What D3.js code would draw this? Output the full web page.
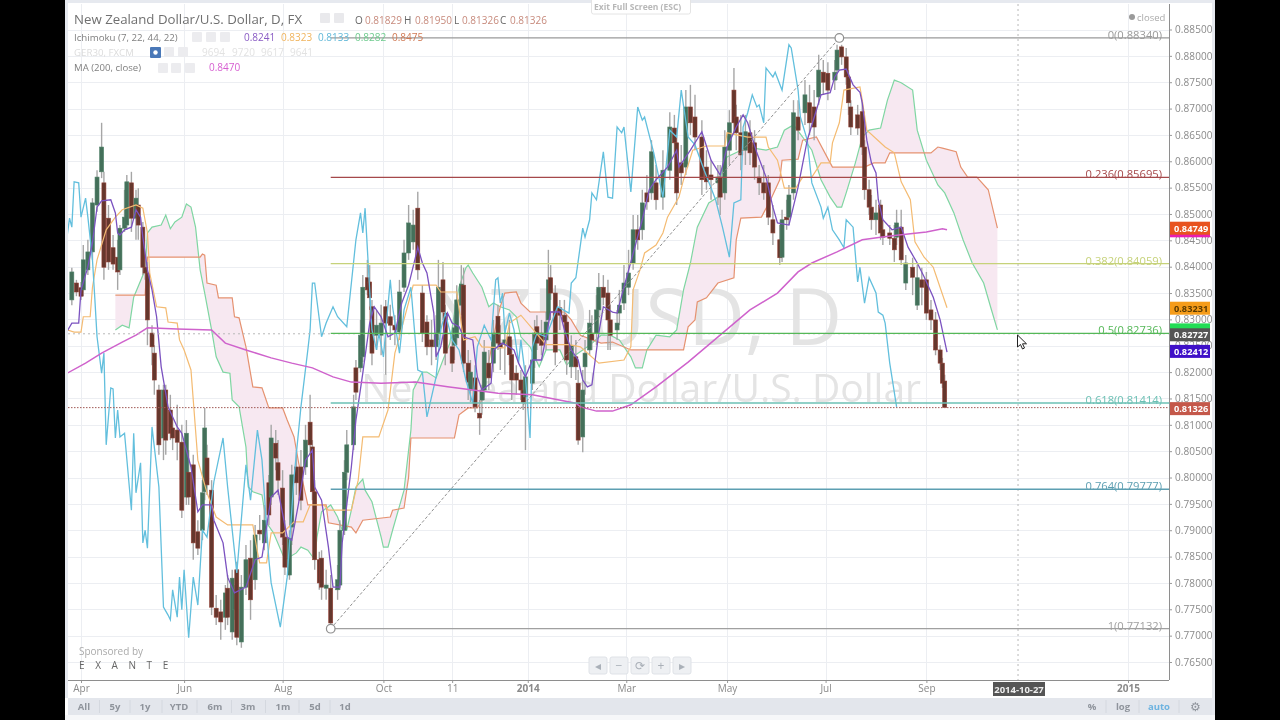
<!DOCTYPE html>
<html>
<head>
<meta charset="utf-8">
<script src="https://cdnjs.cloudflare.com/ajax/libs/d3/7.8.5/d3.min.js"></script>
<style>
html,body{margin:0;padding:0;background:#000;overflow:hidden}
text{font-family:"Open Sans",sans-serif}
</style>
</head>
<body>
<script>
// all x values are trading day counts from 1 Apr 2013
const dayTicks = [0,45,88,132,162,195,238,282,325,369,457];
const dayLabels = ["Apr","Jun","Aug","Oct","11","2014","Mar","May","Jul","Sep","2015"];
const priceTicks = [0.885,0.88,0.875,0.87,0.865,0.86,0.855,0.85,0.845,0.84,0.835,0.83,0.825,0.82,0.815,0.81,0.805,0.8,0.795,0.79,0.785,0.78,0.775,0.77,0.765];

const candleDays = [
-4,-2,0,1,3,5,7,9,10,12,
14,16,17,19,20,22,24,25,27,28,
29,31,32,34,36,37,39,40,42,44,
46,47,49,51,53,54,55,57,59,61,
63,64,66,67,68,70,72,74,76,78,
80,82,83,85,86,88,89,91,92,94,
96,98,100,101,102,104,105,107,109,112,
113,115,116,119,120,122,123,125,126,127,
129,131,133,135,137,139,141,143,145,147,
149,151,153,155,156,158,159,162,163,164,
166,167,169,170,172,174,175,176,178,180,
182,183,185,187,188,190,192,193,194,197,
198,199,201,203,204,205,207,209,211,212,
214,216,217,219,220,222,223,225,226,228,
230,231,234,235,237,239,241,243,245,247,
249,251,254,257,259,260,262,264,266,268,
271,273,275,278,279,281,283,285,286,288,
290,292,294,296,298,300,302,305,306,308,
309,311,313,316,318,320,322,324,326,329,
330,332,334,335,336,339,341,342,344,345,
347,349,350,353,355,356,358,360,363,365,
367,369,371,373,375,376,377];
const opens = [
.8337,.8369,.8360,.8356,.8394,.8428,.8517,.8580,.8559,.8492,
.8436,.8418,.8394,.8473,.8479,.8559,.8492,.8517,.8475,.8399,
.8388,.8274,.8236,.8166,.8075,.8166,.8128,.8094,.8090,.8067,
.7963,.8010,.8024,.7897,.7900,.7973,.8037,.7976,.7752,.7745,
.7735,.7790,.7707,.7749,.7825,.7688,.7792,.7847,.7806,.7900,
.7876,.7990,.7963,.8065,.8028,.7980,.7887,.7815,.7906,.8020,
.8020,.8020,.8105,.8058,.7973,.7844,.7847,.7790,.7790,.7787,
.7796,.7900,.8010,.8062,.8208,.8208,.8229,.8379,.8371,.8324,
.8270,.8270,.8324,.8305,.8289,.8276,.8361,.8426,.8447,.8511,
.8350,.8295,.8261,.8248,.8274,.8375,.8312,.8248,.8251,.8265,
.8327,.8365,.8217,.8166,.8189,.8122,.8147,.8166,.8217,.8217,
.8306,.8255,.8253,.8267,.8233,.8198,.8185,.8166,.8153,.8179,
.8223,.8286,.8274,.8261,.8299,.8379,.8350,.8322,.8308,.8295,
.8210,.8229,.8179,.8077,.8210,.8242,.8274,.8274,.8318,.8361,
.8350,.8299,.8280,.8312,.8331,.8361,.8407,.8470,.8470,.8540,
.8540,.8559,.8532,.8583,.8663,.8635,.8597,.8589,.8703,.8684,
.8646,.8589,.8574,.8559,.8570,.8540,.8621,.8735,.8684,.8654,
.8621,.8654,.8635,.8570,.8559,.8559,.8489,.8451,.8418,.8494,
.8494,.8540,.8684,.8692,.8711,.8703,.8722,.8769,.8767,.8754,
.8773,.8817,.8798,.8760,.8703,.8688,.8694,.8627,.8546,.8513,
.8489,.8517,.8470,.8464,.8454,.8456,.8475,.8369,.8399,.8327,
.8375,.8375,.8318,.8299,.8242,.8217,.8183];
const closes = [
.8390,.8352,.8344,.8413,.8428,.8521,.8570,.8627,.8399,.8409,
.8405,.8390,.8473,.8494,.8561,.8492,.8530,.8479,.8399,.8388,
.8299,.8248,.8185,.8062,.8166,.8071,.8084,.8075,.8067,.7938,
.8084,.7963,.7876,.7866,.7971,.8094,.7986,.7754,.7735,.7726,
.7781,.7735,.7809,.7787,.7697,.7792,.7844,.7768,.7891,.7893,
.7919,.7929,.8075,.8037,.7995,.7887,.7830,.7885,.8005,.7990,
.7957,.8071,.8062,.7973,.7844,.7800,.7792,.7796,.7724,.7806,
.7900,.8010,.8062,.8134,.8162,.8270,.8361,.8356,.8341,.8236,
.8289,.8293,.8293,.8289,.8280,.8352,.8426,.8483,.8479,.8394,
.8274,.8248,.8248,.8274,.8361,.8314,.8236,.8217,.8284,.8337,
.8367,.8217,.8181,.8200,.8134,.8113,.8166,.8238,.8189,.8274,
.8255,.8246,.8261,.8233,.8185,.8185,.8166,.8143,.8191,.8223,
.8274,.8255,.8251,.8295,.8375,.8350,.8238,.8308,.8295,.8223,
.8251,.8210,.8071,.8166,.8236,.8293,.8261,.8318,.8361,.8342,
.8299,.8270,.8293,.8327,.8369,.8388,.8470,.8451,.8521,.8523,
.8618,.8527,.8583,.8665,.8635,.8540,.8578,.8703,.8673,.8646,
.8565,.8561,.8565,.8570,.8532,.8627,.8673,.8673,.8654,.8612,
.8656,.8616,.8589,.8559,.8540,.8494,.8464,.8417,.8489,.8489,
.8536,.8692,.8659,.8726,.8673,.8665,.8773,.8750,.8735,.8769,
.8811,.8798,.8760,.8711,.8665,.8663,.8627,.8546,.8513,.8489,
.8502,.8464,.8456,.8454,.8432,.8483,.8413,.8407,.8380,.8379,
.8361,.8312,.8299,.8242,.8217,.8179,.8133];
const highs = [
.8398,.8375,.8371,.8441,.8451,.8530,.8583,.8673,.8580,.8517,
.8460,.8451,.8479,.8546,.8574,.8580,.8546,.8549,.8485,.8422,
.8409,.8289,.8251,.8176,.8176,.8176,.8157,.8113,.8138,.8100,
.8109,.8052,.8043,.7919,.7995,.8132,.8062,.7995,.7777,.7768,
.7796,.7815,.7825,.7796,.7840,.7815,.7872,.7881,.7910,.7929,
.7948,.8005,.8100,.8090,.8071,.8014,.7919,.7900,.8024,.8052,
.8052,.8100,.8157,.8071,.7995,.7859,.7862,.7825,.7815,.7834,
.7919,.8033,.8090,.8157,.8223,.8299,.8384,.8413,.8403,.8337,
.8318,.8328,.8337,.8328,.8308,.8375,.8451,.8517,.8508,.8542,
.8365,.8308,.8299,.8308,.8413,.8409,.8328,.8261,.8308,.8365,
.8403,.8398,.8242,.8223,.8213,.8147,.8176,.8261,.8242,.8299,
.8328,.8289,.8289,.8299,.8261,.8213,.8204,.8185,.8213,.8242,
.8299,.8308,.8299,.8314,.8432,.8403,.8365,.8337,.8337,.8308,
.8270,.8261,.8204,.8204,.8261,.8318,.8308,.8346,.8388,.8384,
.8375,.8328,.8318,.8356,.8403,.8432,.8498,.8498,.8546,.8574,
.8640,.8593,.8621,.8693,.8688,.8659,.8631,.8735,.8745,.8726,
.8678,.8621,.8602,.8593,.8593,.8659,.8697,.8777,.8707,.8688,
.8688,.8678,.8659,.8593,.8593,.8574,.8517,.8479,.8508,.8527,
.8555,.8716,.8716,.8754,.8745,.8735,.8802,.8792,.8788,.8792,
.8821,.8821,.8815,.8773,.8716,.8707,.8716,.8640,.8565,.8536,
.8527,.8527,.8489,.8479,.8479,.8508,.8508,.8422,.8417,.8403,
.8398,.8390,.8337,.8314,.8251,.8227,.8195];
const lows = [
.8327,.8344,.8337,.8344,.8384,.8413,.8504,.8568,.8375,.8394,
.8394,.8356,.8384,.8466,.8470,.8466,.8451,.8451,.8384,.8375,
.8251,.8213,.8157,.8043,.8033,.8043,.8071,.8052,.8033,.7923,
.7948,.7948,.7844,.7853,.7881,.7957,.7967,.7739,.7720,.7692,
.7711,.7720,.7692,.7730,.7682,.7677,.7777,.7730,.7787,.7881,
.7862,.7910,.7948,.8014,.7967,.7872,.7815,.7806,.7872,.7967,
.7938,.8005,.8043,.7957,.7825,.7787,.7768,.7768,.7714,.7768,
.7787,.7891,.7995,.8052,.8147,.8200,.8219,.8346,.8318,.8213,
.8242,.8232,.8195,.8261,.8251,.8261,.8352,.8413,.8432,.8375,
.8257,.8232,.8213,.8223,.8261,.8299,.8213,.8200,.8223,.8251,
.8308,.8200,.8147,.8143,.8124,.8081,.8119,.8147,.8166,.8200,
.8242,.8204,.8195,.8213,.8147,.8157,.8147,.8128,.8052,.8166,
.8208,.8242,.8232,.8242,.8289,.8337,.8213,.8280,.8270,.8195,
.8189,.8185,.8062,.8048,.8157,.8232,.8242,.8251,.8303,.8327,
.8242,.8242,.8261,.8289,.8318,.8346,.8394,.8432,.8451,.8508,
.8527,.8508,.8508,.8565,.8612,.8517,.8555,.8574,.8650,.8621,
.8536,.8546,.8527,.8517,.8498,.8527,.8593,.8650,.8621,.8583,
.8593,.8593,.8565,.8536,.8527,.8479,.8441,.8403,.8409,.8470,
.8479,.8527,.8640,.8669,.8650,.8640,.8707,.8726,.8716,.8735,
.8754,.8783,.8745,.8688,.8650,.8650,.8612,.8527,.8498,.8470,
.8460,.8451,.8441,.8441,.8409,.8441,.8403,.8356,.8346,.8318,
.8327,.8299,.8280,.8232,.8204,.8170,.8133];

const lagDays = [-6,-5,-4,-3,-1,0,2,3,5,6,7,9,10,11,13,14,15,16,17,19,22,23,24,26,27,28,29,31,34,36,38,39,40,42,43,44,45,47,49,51,53,55,58,62,64,68,72,74,77,79,82,83,87,90,93,96,99,100,101,102,105,107,110,112,116,120,122,123,124,126,127,129,130,132,135,136,139,141,144,147,149,151,155,157,159,162,165,168,171,173,176,179,181,182,183,184,185,187,189,191,192,194,196,197,199,203,208,213,214,216,219,220,222,223,225,228,230,232,234,236,237,240,243,245,246,250,254,257,260,262,265,268,272,277,280,283,285,288,289,291,293,295,296,298,299,302,303,306,309,310,313,314,317,319,323,324,326,328,331,333,334,337,339,340,342,344,347,348,350,351,353,356];
const lagVals = [.8460,.8492,.8475,.8561,.8559,.8494,.8530,.8494,.8413,.8342,.8267,.8198,.8236,.8062,.8170,.8168,.8075,.8128,.8077,.8084,.7938,.8084,.7971,.8028,.7876,.7900,.7866,.8096,.7982,.7754,.7739,.7730,.7787,.7735,.7811,.7749,.7825,.7696,.7811,.7758,.7900,.7887,.7992,.8075,.7982,.7819,.8024,.7957,.8090,.8033,.7844,.7800,.7716,.7811,.8001,.8134,.8242,.8280,.8369,.8369,.8267,.8293,.8324,.8305,.8286,.8451,.8502,.8464,.8511,.8356,.8280,.8242,.8274,.8229,.8375,.8324,.8236,.8318,.8361,.8204,.8200,.8115,.8191,.8280,.8312,.8261,.8242,.8185,.8141,.8248,.8289,.8261,.8375,.8379,.8331,.8350,.8274,.8312,.8280,.8217,.8261,.8191,.8075,.8248,.8274,.8267,.8324,.8312,.8369,.8379,.8473,.8456,.8489,.8540,.8527,.8618,.8532,.8530,.8665,.8654,.8665,.8542,.8703,.8678,.8684,.8616,.8532,.8659,.8646,.8735,.8646,.8631,.8583,.8527,.8475,.8418,.8521,.8527,.8665,.8692,.8726,.8703,.8707,.8673,.8777,.8760,.8769,.8735,.8821,.8815,.8735,.8684,.8640,.8559,.8513,.8492,.8513,.8470,.8451,.8436,.8489,.8475,.8371,.8399,.8331,.8379,.8350,.8314,.8308,.8293,.8217,.8134];

const convDays = [-6,-4,-1,0,3,5,7,9,13,15,16,17,19,22,24,26,27,29,31,33,35,38,42,44,48,51,53,57,58,62,64,67,72,76,79,81,83,86,90,92,95,98,101,102,105,108,110,113,114,118,120,123,125,126,128,131,134,137,140,143,146,147,149,151,154,155,157,160,162,165,167,171,173,175,179,180,184,189,191,194,197,201,203,205,209,211,214,217,219,221,223,226,228,232,234,237,245,248,251,256,260,261,266,271,275,279,282,286,289,291,295,299,302,304,309,313,317,323,327,329,331,334,337,340,341,343,345,347,348,350,354,358,361,365,368,372,375,378];
const convVals = [.8278,.8293,.8293,.8356,.8399,.8445,.8513,.8525,.8527,.8502,.8464,.8460,.8470,.8475,.8508,.8494,.8456,.8394,.8356,.8305,.8210,.8134,.8096,.8084,.8020,.7935,.7948,.7948,.7919,.7876,.7811,.7781,.7792,.7844,.7849,.7906,.7963,.7976,.7887,.7881,.7952,.8033,.8052,.7982,.7957,.7868,.7792,.7792,.7876,.8020,.8109,.8198,.8261,.8293,.8324,.8305,.8267,.8274,.8331,.8365,.8418,.8437,.8407,.8388,.8312,.8229,.8248,.8312,.8293,.8286,.8267,.8261,.8191,.8166,.8179,.8242,.8255,.8242,.8217,.8191,.8223,.8223,.8267,.8314,.8314,.8280,.8242,.8223,.8185,.8172,.8176,.8274,.8324,.8314,.8312,.8361,.8489,.8546,.8565,.8589,.8621,.8589,.8621,.8656,.8602,.8574,.8627,.8665,.8688,.8673,.8616,.8570,.8513,.8483,.8479,.8551,.8640,.8726,.8730,.8760,.8773,.8775,.8745,.8731,.8711,.8640,.8597,.8578,.8527,.8489,.8470,.8475,.8437,.8407,.8381,.8342,.8299,.8238];

const baseDays = [-6,-3,0,1,4,5,7,11,15,18,24,27,29,30,33,37,38,42,43,45,48,51,55,59,64,75,77,78,81,83,88,93,97,100,106,108,118,121,123,130,134,137,139,145,155,157,164,167,172,175,185,187,192,203,213,218,226,237,240,241,244,246,251,254,256,261,263,267,273,281,282,291,299,300,304,307,312,315,319,323,327,328,331,333,340,341,343,351,355,358,362,364,368,372,378];
const baseVals = [.8280,.8276,.8276,.8305,.8305,.8361,.8413,.8470,.8494,.8508,.8517,.8511,.8464,.8388,.8324,.8322,.8295,.8293,.8261,.8242,.8204,.8033,.7971,.7925,.7910,.7910,.7859,.7838,.7838,.7895,.7895,.7916,.7916,.7948,.7948,.7938,.7938,.7995,.8077,.8077,.8128,.8236,.8267,.8365,.8365,.8352,.8352,.8261,.8267,.8248,.8246,.8293,.8308,.8252,.8252,.8248,.8217,.8223,.8248,.8356,.8394,.8426,.8441,.8464,.8494,.8532,.8565,.8621,.8629,.8629,.8654,.8646,.8646,.8627,.8602,.8549,.8549,.8570,.8570,.8597,.8597,.8635,.8673,.8735,.8741,.8716,.8659,.8627,.8616,.8561,.8527,.8447,.8418,.8399,.8322];

const spanADays = [15,18,21,23,28,29,31,35,37,39,41,44,46,48,50,52,54,57,59,62,65,66,69,72,73,75,79,81,84,89,94,96,99,102,103,105,109,112,114,116,118,120,123,124,127,131,132,134,136,141,144,145,149,151,155,158,161,163,165,168,169,171,175,178,180,183,187,190,192,196,200,203,209,212,216,222,227,231,235,240,242,245,247,251,257,260,263,266,269,274,278,280,282,291,299,304,307,311,315,319,323,327,330,332,334,338,341,344,349,352,355,358,363,365,369,374,377,381,385,389,394,397,400];
const spanAVals = [.8280,.8289,.8284,.8342,.8394,.8464,.8475,.8479,.8498,.8472,.8485,.8494,.8519,.8513,.8475,.8394,.8350,.8280,.8229,.8200,.8198,.8147,.8134,.8058,.7982,.7973,.7967,.7914,.7895,.7844,.7857,.7868,.7862,.7844,.7887,.7935,.7948,.7925,.7900,.7900,.7938,.7982,.7997,.7976,.7954,.7887,.7868,.7868,.7900,.7976,.8090,.8166,.8200,.8200,.8189,.8223,.8255,.8312,.8361,.8398,.8403,.8388,.8361,.8324,.8331,.8324,.8318,.8305,.8267,.8248,.8210,.8242,.8242,.8213,.8233,.8251,.8270,.8270,.8261,.8229,.8208,.8208,.8242,.8270,.8267,.8280,.8356,.8407,.8475,.8521,.8532,.8589,.8608,.8627,.8621,.8627,.8659,.8669,.8646,.8621,.8565,.8532,.8513,.8513,.8540,.8597,.8646,.8659,.8663,.8716,.8754,.8749,.8735,.8659,.8602,.8555,.8540,.8502,.8451,.8407,.8369,.8324,.8280];

const spanBDays = [15,28,29,52,53,54,55,59,60,66,67,69,72,75,79,82,88,90,93,95,99,107,108,118,120,123,135,136,141,143,144,163,165,169,173,175,180,183,185,190,192,196,211,214,218,227,232,240,263,265,268,269,273,278,285,286,288,297,301,305,306,313,315,321,327,328,342,346,351,353,371,374,376,382,384,387,391,396,400];
const spanBVals = [.8346,.8346,.8418,.8418,.8424,.8422,.8369,.8365,.8341,.8341,.8305,.8303,.8248,.8172,.8170,.8132,.8132,.8109,.8077,.8028,.7948,.7948,.7914,.7906,.7895,.7919,.7925,.7938,.7942,.8001,.8075,.8075,.8119,.8132,.8132,.8147,.8267,.8324,.8350,.8352,.8331,.8314,.8314,.8299,.8270,.8255,.8257,.8242,.8242,.8286,.8299,.8333,.8341,.8369,.8379,.8451,.8492,.8494,.8527,.8565,.8602,.8604,.8640,.8646,.8597,.8589,.8589,.8597,.8597,.8616,.8616,.8627,.8625,.8618,.8589,.8570,.8570,.8546,.8473];

const maDays = [-6,2,9,18,24,29,42,57,63,72,83,92,101,110,118,131,146,160,171,182,197,216,218,225,232,240,251,265,280,292,304,313,319,330,341,349,357,369,376,378];
const maVals = [.8198,.8217,.8236,.8257,.8270,.8284,.8282,.8280,.8255,.8242,.8227,.8217,.8208,.8191,.8181,.8179,.8181,.8172,.8166,.8160,.8157,.8141,.8134,.8126,.8126,.8138,.8172,.8219,.8274,.8318,.8350,.8390,.8407,.8428,.8451,.8456,.8460,.8466,.8472,.8470];

const fibRatios = ["0","0.236","0.382","0.5","0.618","0.764","1"];
const fibPrices = [0.8834,0.85695,0.84059,0.82736,0.81414,0.79777,0.77132];
const fibColors = ["#9a9a9a","#a5484a","#c6d27a","#55b858","#6cc0b4","#5d9fb2","#a0a0a0"];
const fibStartDay = 109;
const trendDays = [109,331];
const trendPrices = [0.77132,0.8834];

const tagPrices = [0.8470,0.84749,0.83231,0.8282,0.82727,0.82412,0.81326];
const tagLabels = ["","0.84749","0.83231","","0.82727","0.82412","0.81326"];
const tagColors = ["#e91eb0","#e8531f","#f59c1a","#22dd55","#555555","#3f10c8","#c4584a"];
const tagText = ["#fff","#fff","#5a3a00","#fff","#fff","#fff","#fff"];

const rangeLabels = ["All","5y","1y","YTD","6m","3m","1m","5d","1d"];
const rangeSpots = [84,115,145,179,215,248,283,315,345];

(()=>{
    const width = 1280;
    const height = 720;
    const plotLeft = 68;
    const plotRight = 1169;
    const plotTop = 4;
    const plotBottom = 680;

    const x = d3.scaleLinear().domain([0,457]).range([81,1128]);
    const y = d3.scaleLinear().domain([0.885,0.765]).range([29.5,662]);

    const svg = d3.create("svg")
    .attr("width",width)
    .attr("height",height)
    .attr("viewBox",[0,0,width,height])
    .style("display","block")
    .style("filter","blur(0.4px)");

    svg.append("rect").attr("width",width).attr("height",height).attr("fill","#000");
    svg.append("rect").attr("x",65).attr("y",0).attr("width",1150).attr("height",720).attr("fill","#fff");
    svg.append("rect").attr("x",65).attr("y",0).attr("width",3).attr("height",698).attr("fill","#e6e9ef");
    svg.append("rect").attr("x",1212).attr("y",0).attr("width",3).attr("height",720).attr("fill","#e6e9ef");
    svg.append("rect").attr("x",65).attr("y",0).attr("width",1150).attr("height",3).attr("fill","#e6e9ef");

    svg.append("clipPath").attr("id","plot")
    .append("rect").attr("x",plotLeft).attr("y",plotTop).attr("width",plotRight-plotLeft).attr("height",plotBottom-plotTop);

    // grid
    const grid = svg.append("g").attr("stroke","#eceef2").attr("stroke-width",1);
    grid.selectAll("line.h").data(priceTicks).enter().append("line")
    .attr("x1",plotLeft).attr("x2",plotRight)
    .attr("y1",d=>Math.round(y(d))+.5).attr("y2",d=>Math.round(y(d))+.5);
    grid.selectAll("line.v").data(dayTicks).enter().append("line")
    .attr("y1",plotTop).attr("y2",plotBottom)
    .attr("x1",d=>Math.round(x(d))+.5).attr("x2",d=>Math.round(x(d))+.5);

    // watermark
    svg.append("text").attr("x",842).attr("y",345).attr("text-anchor","end")
    .attr("font-size",78).attr("fill","#e4e4e4").text("NZDUSD, D");
    svg.append("text").attr("x",921).attr("y",402).attr("text-anchor","end")
    .attr("font-size",39).attr("fill","#e4e4e4").text("New Zealand Dollar/U.S. Dollar");

    const chart = svg.append("g").attr("clip-path","url(#plot)");

    const pts = (days,vals)=>days.map((d,i)=>[d,vals[i]]);
    const path = d3.line().x(d=>x(d[0])).y(d=>y(d[1]));

    // ichimoku cloud
    const spanA = pts(spanADays,spanAVals);
    const spanB = pts(spanBDays,spanBVals);
    chart.append("path")
    .attr("d",path(spanA.concat(spanB.slice().reverse()))+"Z")
    .attr("fill","#f7e8f1").attr("stroke","none");

    const series = [
        [spanA,"#7fd6a2",1.2],
        [spanB,"#e59270",1.2]
    ];
    series.forEach(s=>{
        chart.append("path").attr("d",path(s[0])).attr("fill","none")
        .attr("stroke",s[1]).attr("stroke-width",s[2]);
    });

    // candles
    const candles = candleDays.map((d,i)=>({day:d,o:opens[i],c:closes[i],h:highs[i],l:lows[i]}));
    const bodyWidth = 4;
    chart.selectAll("line.wick").data(candles).enter().append("line")
    .attr("x1",d=>x(d.day)).attr("x2",d=>x(d.day))
    .attr("y1",d=>y(d.h)).attr("y2",d=>y(d.l))
    .attr("stroke","#a6a6a6").attr("stroke-width",1.4);
    chart.selectAll("rect.body").data(candles).enter().append("rect")
    .attr("x",d=>x(d.day)-bodyWidth/2)
    .attr("y",d=>y(Math.max(d.o,d.c)))
    .attr("width",bodyWidth)
    .attr("height",d=>Math.max(1,Math.abs(y(d.o)-y(d.c))))
    .attr("fill",d=>d.c>=d.o?"#44705a":"#65372d")
    .attr("stroke",d=>d.c>=d.o?"#4f8068":"#8f3d32")
    .attr("stroke-width",.6);

    // other ichimoku lines and the moving average on top of the candles
    const topLines = [
        [pts(baseDays,baseVals),"#f4bb72",1.2],
        [pts(lagDays,lagVals),"#62bfdd",1.3],
        [pts(convDays,convVals),"#7b52c0",1.3],
        [pts(maDays,maVals),"#cf62cc",1.5]
    ];
    topLines.forEach(s=>{
        chart.append("path").attr("d",path(s[0])).attr("fill","none")
        .attr("stroke",s[1]).attr("stroke-width",s[2]);
    });

    // last price + crosshair lines
    chart.append("line").attr("x1",plotLeft).attr("x2",plotRight)
    .attr("y1",y(0.81326)).attr("y2",y(0.81326))
    .attr("stroke","#a05a55").attr("stroke-width",1).attr("stroke-dasharray","1.5 1.5");
    chart.append("line").attr("x1",plotLeft).attr("x2",plotRight)
    .attr("y1",y(0.82727)).attr("y2",y(0.82727))
    .attr("stroke","#b8b8b8").attr("stroke-width",1).attr("stroke-dasharray","2 3");
    chart.append("line").attr("x1",x(409)).attr("x2",x(409))
    .attr("y1",plotTop).attr("y2",plotBottom)
    .attr("stroke","#b8b8b8").attr("stroke-width",1).attr("stroke-dasharray","2 3");

    // fibonacci retracement
    chart.append("line")
    .attr("x1",x(trendDays[0])).attr("y1",y(trendPrices[0]))
    .attr("x2",x(trendDays[1])).attr("y2",y(trendPrices[1]))
    .attr("stroke","#8f8f8f").attr("stroke-width",1).attr("stroke-dasharray","3 2");
    chart.selectAll("line.fib").data(fibPrices).enter().append("line")
    .attr("x1",x(fibStartDay)).attr("x2",plotRight)
    .attr("y1",d=>y(d)).attr("y2",d=>y(d))
    .attr("stroke",(d,i)=>fibColors[i]).attr("stroke-width",1.3);
    svg.selectAll("text.fib").data(fibPrices).enter().append("text")
    .attr("x",1162).attr("y",d=>y(d)+1)
    .attr("text-anchor","end").attr("font-size",11.2)
    .attr("fill",(d,i)=>fibColors[i])
    .text((d,i)=>`${fibRatios[i]}(${d3.format(".5f")(d)})`);
    chart.selectAll("circle.end").data(trendDays).enter().append("circle")
    .attr("cx",d=>x(d)).attr("cy",(d,i)=>y(trendPrices[i])).attr("r",4.3)
    .attr("fill","#fff").attr("stroke","#8f8f8f").attr("stroke-width",1.2);

    // axes
    const yAxis = svg.append("g")
    .attr("transform",`translate(${plotRight},0)`)
    .call(d3.axisRight(y).tickValues(priceTicks).tickFormat(d3.format(".5f")).tickSize(3).tickPadding(3));
    yAxis.select(".domain").remove();
    yAxis.selectAll("line").attr("stroke","#999");
    yAxis.selectAll("text").attr("fill","#8a8a8a").attr("font-size",10).attr("font-family","Roboto,sans-serif").attr("letter-spacing",.1);

    const xAxis = svg.append("g")
    .attr("transform",`translate(0,${plotBottom})`)
    .call(d3.axisBottom(x).tickValues(dayTicks).tickFormat((d,i)=>dayLabels[i]).tickSize(3).tickPadding(2));
    xAxis.select(".domain").remove();
    xAxis.selectAll("line").attr("stroke","#999");
    xAxis.selectAll("text").attr("fill","#8a8a8a").attr("font-size",10)
    .attr("font-family","Roboto,sans-serif")
    .attr("font-weight",(d,i)=>dayLabels[i]==="2014"||dayLabels[i]==="2015"?"bold":"normal");

    svg.append("line").attr("x1",plotRight+.5).attr("x2",plotRight+.5).attr("y1",plotTop).attr("y2",plotBottom)
    .attr("stroke","#8e8e8e").attr("stroke-width",1);
    svg.append("line").attr("x1",plotLeft).attr("x2",plotRight).attr("y1",plotBottom+.5).attr("y2",plotBottom+.5)
    .attr("stroke","#8e8e8e").attr("stroke-width",1);

    // price tags
    const tags = svg.append("g");
    tagPrices.forEach((p,i)=>{
        tags.append("rect").attr("x",plotRight+1).attr("y",y(p)-5.5).attr("width",40).attr("height",13).attr("fill",tagColors[i]);
        if (tagLabels[i]) tags.append("text").attr("x",plotRight+5).attr("y",y(p)+4.5)
        .attr("font-size",9.2).attr("font-weight","bold").attr("font-family","Roboto,sans-serif")
        .attr("fill",tagText[i]).text(tagLabels[i]);
    });

    // date tag
    svg.append("rect").attr("x",993).attr("y",682).attr("width",52).attr("height",14).attr("fill","#555");
    svg.append("text").attr("x",1019).attr("y",692.5).attr("text-anchor","middle").attr("font-size",9.5)
    .attr("font-weight","bold").attr("font-family","Roboto,sans-serif").attr("fill","#eee").text("2014-10-27");

    // mouse pointer
    svg.append("path").attr("transform","translate(1017.5,335)")
    .attr("d","M0 0L0 12L3 9.5L5 14L7 13L5 8.8L9 8.8Z")
    .attr("fill","#fff").attr("stroke","#222").attr("stroke-width",1);

    // legend
    const label = (tx,ty,txt,size,fill,weight)=>svg.append("text").attr("x",tx).attr("y",ty)
    .attr("font-size",size).attr("fill",fill).attr("font-weight",weight||"normal").text(txt);
    const box = (bx,by,bw,fill)=>svg.append("rect").attr("x",bx).attr("y",by).attr("width",bw).attr("height",bw)
    .attr("rx",1).attr("fill",fill);

    label(74,24,"New Zealand Dollar/U.S. Dollar, D, FX",13.25,"#707070");
    [[320,"#e9e9ec"],[334,"#e9e9ec"]].forEach(b=>box(b[0],13,10,b[1]));
    [[355,"O"],[404,"H"],[454,"L"],[500,"C"]].forEach(d=>label(d[0],24,d[1],10,"#666"));
    [[365,"0.81829"],[415,"0.81950"],[462,"0.81326"],[510,"0.81326"]].forEach(d=>label(d[0],24,d[1],10,"#c78a7c"));

    label(74,41,"Ichimoku (7, 22, 44, 22)",9.7,"#808080");
    [192,206,220].forEach(b=>box(b,32,10,"#ececef"));
    [[244,"0.8241","#8a5cc4"],[281,"0.8323","#f0b45e"],[318,"0.8133","#62b8d8"],[355,"0.8282","#6ecb8e"],[392,"0.8475","#d07a55"]]
    .forEach(d=>label(d[0],41,d[1],10,d[2]));

    label(74,56,"GER30, FXCM",9.7,"#dcdcdc");
    box(150,47,11,"#4a78b8");
    svg.append("circle").attr("cx",155.5).attr("cy",52.5).attr("r",2.2).attr("fill","#fff");
    [164,178].forEach(b=>box(b,47,10,"#ececef"));
    [[202,"9694"],[232,"9720"],[261,"9617"],[290,"9641"]].forEach(d=>label(d[0],56,d[1],10,"#e2e2e2"));

    label(74,71,"MA (200, close)",9.6,"#808080");
    [158,171,185].forEach(b=>box(b,63,10,"#ececef"));
    label(209,71,"0.8470",10,"#d65fd0");

    // closed marker + exit full screen
    svg.append("circle").attr("cx",1132).attr("cy",17).attr("r",3).attr("fill","#9a9a9a");
    label(1137,20.5,"closed",9.5,"#aaa");
    svg.append("rect").attr("x",591.5).attr("y",-2).attr("width",99).attr("height",16).attr("rx",2)
    .attr("fill","#fff").attr("stroke","#e4e4e4");
    label(594,9.5,"Exit Full Screen (ESC)",8.5,"#b8b8b8","bold");

    // sponsor
    label(79,655,"Sponsored by",10,"#aaa");
    label(79,669,"EXANTE",10,"#666").attr("letter-spacing",10.6);

    // pan and zoom buttons
    [[598,"◂"],[619,"−"],[640,"⟳"],[661,"+"],[682,"▸"]].forEach(d=>{
        svg.append("rect").attr("x",d[0]-9).attr("y",657).attr("width",18).attr("height",17).attr("rx",2)
        .attr("fill","#eef0f3").attr("stroke","#dfe2e7");
        svg.append("text").attr("x",d[0]).attr("y",670).attr("text-anchor","middle")
        .attr("font-family","DejaVu Sans").attr("font-size",12).attr("fill","#aab0b8").text(d[1]);
    });

    // bottom toolbar
    svg.append("rect").attr("x",68).attr("y",698).attr("width",1144).attr("height",17).attr("fill","#e3e6ec");
    svg.append("rect").attr("x",65).attr("y",715).attr("width",1150).attr("height",5).attr("fill","#f6f7f9");
    svg.selectAll("text.range").data(rangeLabels).enter().append("text")
    .attr("x",(d,i)=>rangeSpots[i]).attr("y",710).attr("text-anchor","middle")
    .attr("font-size",9.5).attr("font-weight","bold").attr("fill","#8f949c").text(d=>d);
    svg.selectAll("line.sep").data(rangeSpots.slice(0,8)).enter().append("line")
    .attr("x1",(d,i)=>(d+rangeSpots[i+1])/2).attr("x2",(d,i)=>(d+rangeSpots[i+1])/2)
    .attr("y1",700).attr("y2",713).attr("stroke","#d4d8df");
    [[1092,"%","#8f949c"],[1123,"log","#8f949c"],[1159,"auto","#6db3e0"]].forEach(d=>{
        svg.append("text").attr("x",d[0]).attr("y",710).attr("text-anchor","middle")
        .attr("font-size",9.5).attr("font-weight","bold").attr("fill",d[2]).text(d[1]);
    });
    [1106,1139,1179].forEach(s=>{
        svg.append("line").attr("x1",s).attr("x2",s).attr("y1",700).attr("y2",713).attr("stroke","#d4d8df");
    });
    svg.append("text").attr("x",1195).attr("y",711).attr("text-anchor","middle")
    .attr("font-family","DejaVu Sans").attr("font-size",12).attr("fill","#8f949c").text("⚙");

    d3.select("body").append(()=>svg.node());
})();
</script>
</body>
</html>
